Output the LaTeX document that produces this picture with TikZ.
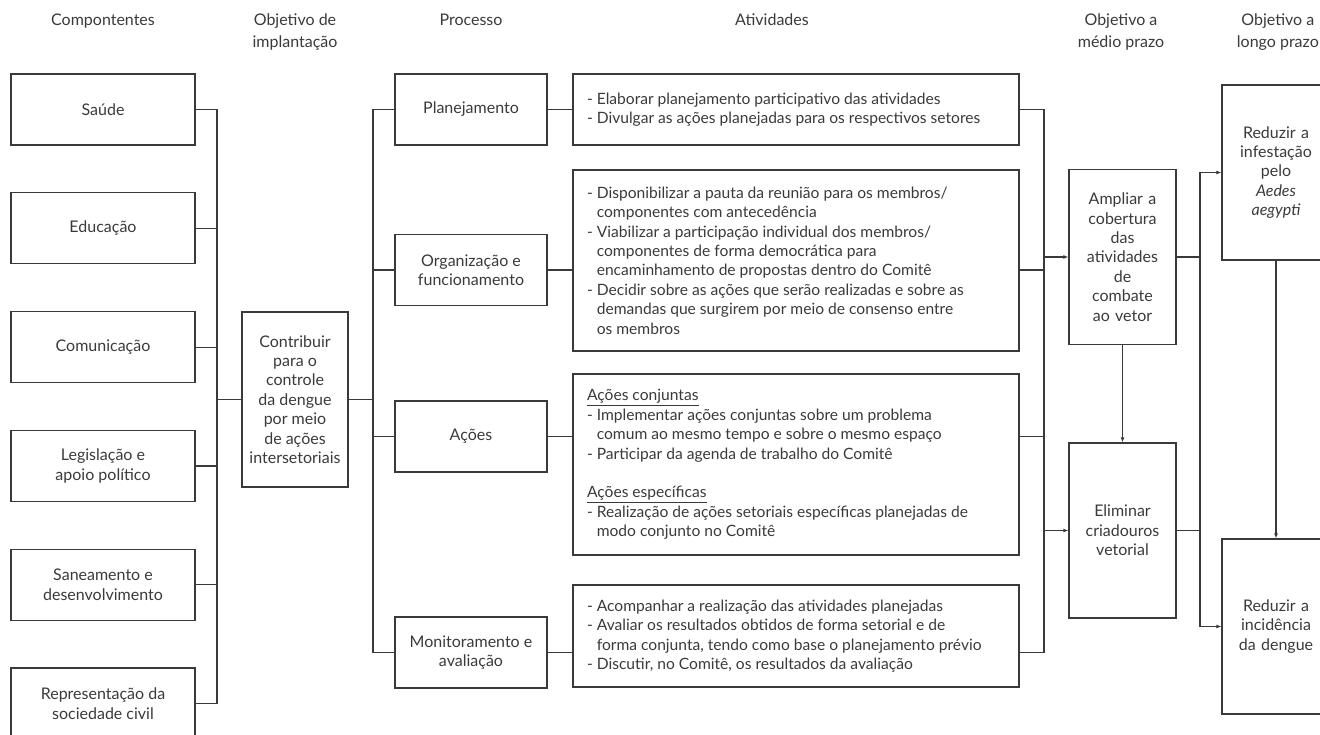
\documentclass[tikz,border=0pt]{standalone}
\usepackage{fontspec}
\setmainfont{Lato}
\usetikzlibrary{arrows.meta,positioning}
\definecolor{ink}{HTML}{3A3A3A}
\newcommand{\recuo}{\phantom{- }}
\tikzset{basic/.style={draw=ink,line width=1.2pt,text=ink,align=center,inner sep=2pt,font=\fontsize{16}{19.4}\selectfont}}
\tikzset{comp/.style={basic,minimum width=184pt,minimum height=71pt}}
\tikzset{proc/.style={basic,minimum width=152pt,minimum height=71pt}}
\tikzset{ativ/.style={basic,align=flush left,text width=418pt,inner xsep=14pt,font=\fontsize{15.6}{19.4}\selectfont}}
\tikzset{meta/.style={basic,text width=100pt,inner xsep=3pt,minimum height=175pt}}
\tikzset{head/.style={anchor=north,align=center,inner sep=0pt,text=ink,font=\fontsize{16}{22}\selectfont}}
\tikzset{link/.style={draw=ink,line width=1.2pt,>={Latex[length=5pt,width=4pt]}}}

\begin{document}
\begin{tikzpicture}[x=1pt,y=-1pt,node distance=118.8pt]
    \useasboundingbox (0,0) rectangle (1320,735);
    \clip (0,0) rectangle (1320,735);

    % cabecalhos
    \node[head] (h1) at (103,14) {Compontentes};
    \node[head] (h2) at (295,14) {Objetivo de\\implantação};
    \node[head] (h3) at (471,14) {Processo};
    \node[head] (h4) at (772,14) {Atividades};
    \node[head] (h5) at (1121,14) {Objetivo a\\médio prazo};
    \node[head,anchor=north east] (h6) at (1319,14) {Objetivo a\\longo prazo};

    % componentes
    \node[comp] (saude) at (103,109.5) {Saúde};
    \node[comp,below of=saude] (educ) {Educação};
    \node[comp,below of=educ] (comun) {Comunicação};
    \node[comp,below of=comun] (legis) {Legislação e\\apoio político};
    \node[comp,below of=legis] (sanea) {Saneamento e\\desenvolvimento};
    \node[comp,below of=sanea] (repres) {Representação da\\sociedade civil};

    \node[basic,minimum width=106pt,minimum height=175pt] (contrib) at (295,399.5)
        {Contribuir\\para o\\controle\\da dengue\\por meio\\de ações\\intersetoriais};

    % processo
    \node[proc] (plan) at (471,109.5) {Planejamento};
    \node[proc] (org) at (471,270) {Organização e\\funcionamento};
    \node[proc] (acoes) at (471,436.5) {Ações};
    \node[proc] (monit) at (471,652.5) {Monitoramento e\\avaliação};

    % atividades
    \node[ativ,minimum height=71pt] (planA) at (796,109.5)
        {- Elaborar planejamento participativo das atividades\\
         - Divulgar as ações planejadas para os respectivos setores};
    \node[ativ,minimum height=181pt] (orgA) at (796,260.5)
        {- Disponibilizar a pauta da reunião para os membros/\\
         \recuo componentes com antecedência\\
         - Viabilizar a participação individual dos membros/\\
         \recuo componentes de forma democrática para\\
         \recuo encaminhamento de propostas dentro do Comitê\\
         - Decidir sobre as ações que serão realizadas e sobre as\\
         \recuo demandas que surgirem por meio de consenso entre\\
         \recuo os membros};
    \node[ativ,minimum height=181pt] (acoesA) at (796,464.5)
        {\underline{Ações conjuntas}\\
         - Implementar ações conjuntas sobre um problema\\
         \recuo comum ao mesmo tempo e sobre o mesmo espaço\\
         - Participar da agenda de trabalho do Comitê\\[19.4pt]
         \underline{Ações específicas}\\
         - Realização de ações setoriais específicas planejadas de\\
         \recuo modo conjunto no Comitê};
    \node[ativ,minimum height=102pt] (monitA) at (796,636)
        {- Acompanhar a realização das atividades planejadas\\
         - Avaliar os resultados obtidos de forma setorial e de\\
         \recuo forma conjunta, tendo como base o planejamento prévio\\
         - Discutir, no Comitê, os resultados da avaliação};

    % objetivos
    \node[meta,minimum width=107pt,text width=101pt] (ampl) at (1122.5,257)
        {Ampliar a\\cobertura\\das\\atividades\\de\\combate\\ao vetor};
    \node[meta,minimum width=107pt,text width=101pt] (elim) at (1122.5,530.5)
        {Eliminar\\criadouros\\vetorial};
    \node[meta,minimum width=108pt,text width=102pt] (infest) at (1276,172.5)
        {Reduzir a\\infestação\\pelo\\\textit{Aedes}\\\textit{aegypti}};
    \node[meta,minimum width=108pt,text width=102pt] (incid) at (1276,626.5)
        {Reduzir a\\incidência\\da dengue};

    \coordinate (bus1) at (217,0);
    \coordinate (bus2) at (373,0);
    \coordinate (bus3) at (1044,0);
    \coordinate (bus4) at (1200,0);

    \path[link] (saude.east) -- (saude.east -| bus1) -- (repres.east -| bus1) -- (repres.east);
    \foreach \n in {educ,comun,legis,sanea}
        \path[link] (\n.east) -- (\n.east -| bus1);
    \path[link] (contrib.west) -- (contrib.west -| bus1);

    \path[link] (contrib.east) -- (contrib.east -| bus2);
    \path[link] (plan.west) -- (plan.west -| bus2) -- (monit.west -| bus2) -- (monit.west);
    \path[link] (org.west) -- (org.west -| bus2);
    \path[link] (acoes.west) -- (acoes.west -| bus2);

    \path[link] (plan.east) -- (plan.east -| planA.west);
    \path[link] (org.east) -- (org.east -| orgA.west);
    \path[link] (acoes.east) -- (acoes.east -| acoesA.west);
    \path[link] (monit.east) -- (monit.east -| monitA.west);

    \path[link] (plan.east -| planA.east) -- (plan.east -| bus3) -- (monit.east -| bus3) -- (monit.east -| monitA.east);
    \path[link] (org.east -| orgA.east) -- (org.east -| bus3);
    \path[link] (acoes.east -| acoesA.east) -- (acoes.east -| bus3);

    \path[link,->] (ampl.west -| bus3) -- (ampl.west);
    \path[link,->] (elim.west -| bus3) -- (elim.west);
    \path[link,->] (ampl.south) -- (elim.north);

    \path[link] (ampl.east) -- (ampl.east -| bus4);
    \path[link] (elim.east) -- (elim.east -| bus4);
    \path[link] (infest.west -| bus4) -- (incid.west -| bus4);
    \path[link,->] (infest.west -| bus4) -- (infest.west);
    \path[link,->] (incid.west -| bus4) -- (incid.west);
    \path[link,->] (infest.south) -- (incid.north);
\end{tikzpicture}
\end{document}
